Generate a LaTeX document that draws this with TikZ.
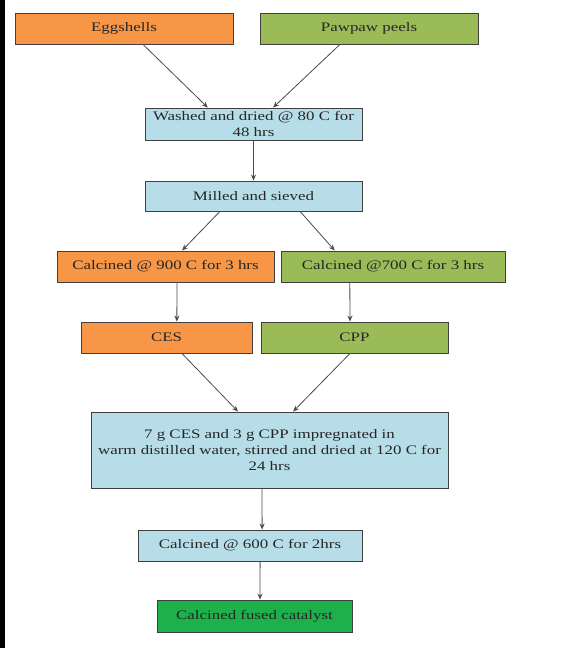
\documentclass[tikz,border=0pt]{standalone}
\usepackage{fontspec}
\setmainfont{Liberation Serif}
\newfontfamily\widefont[FakeStretch=1.3]{Liberation Serif}
\usetikzlibrary{calc,arrows.meta}
\definecolor{orangebox}{HTML}{F79646}
\definecolor{greenbox}{HTML}{9BBB59}
\definecolor{bluebox}{HTML}{B7DEE8}
\definecolor{finalbox}{HTML}{1DB04B}
\tikzset{
  box/.style={draw=black!75, line width=0.9pt, inner sep=1pt, align=center,
    font=\widefont\fontsize{13}{16}\selectfont, text=black!85},
  orng/.style={box, fill=orangebox},
  grn/.style={box, fill=greenbox},
  blu/.style={box, fill=bluebox},
  fin/.style={box, fill=finalbox},
  arr/.style={draw=black!70, line width=0.8pt, -{Stealth[length=6pt,width=5pt]}},
}
\begin{document}
\begin{tikzpicture}[x=1pt,y=-1pt]
\useasboundingbox (0,0) rectangle (561,648);
\fill[white] (0,0) rectangle (561,648);
\fill[black] (0,0) rectangle (5,648);
\node[orng, minimum width=218pt, minimum height=31pt] (egg) at (124,28.5) {Eggshells};
\node[grn, minimum width=218pt, minimum height=31pt] (paw) at (369,28.5) {Pawpaw peels};
\node[blu, minimum width=217pt, minimum height=32pt] (wash) at (253.5,124) {Washed and dried @ 80 C for\\48 hrs};
\node[blu, minimum width=217pt, minimum height=30pt] (mill) at (253.5,196) {Milled and sieved};
\node[orng, minimum width=217pt, minimum height=31pt] (c9) at (165.5,266.5) {Calcined @ 900 C for 3 hrs};
\node[grn, minimum width=224pt, minimum height=31pt] (c7) at (393,266.5) {Calcined @700 C for 3 hrs};
\node[orng, minimum width=171pt, minimum height=31pt] (ces) at (166.5,337.5) {CES};
\node[grn, minimum width=187pt, minimum height=31pt] (cpp) at (354.5,337.5) {CPP};
\node[blu, minimum width=357pt, minimum height=76pt] (big) at (269.5,450) {7 g CES and 3 g CPP impregnated in\\warm distilled water, stirred and dried at 120 C for\\24 hrs};
\node[blu, minimum width=224pt, minimum height=31pt] (c6) at (250,545.5) {Calcined @ 600 C for 2hrs};
\node[fin, minimum width=195pt, minimum height=32pt] (final) at (254.5,616) {Calcined fused catalyst};
\draw[arr] ($(egg.south west)!0.587!(egg.south east)$) -- ($(wash.north west)!0.29!(wash.north east)$);
\draw[arr] ($(paw.south west)!0.367!(paw.south east)$) -- ($(wash.north west)!0.59!(wash.north east)$);
\draw[arr] (wash.south) -- (mill.north);
\draw[arr] ($(mill.south west)!0.346!(mill.south east)$) -- ($(c9.north west)!0.576!(c9.north east)$);
\draw[arr] ($(mill.south west)!0.714!(mill.south east)$) -- ($(c7.north west)!0.241!(c7.north east)$);
\draw[arr] ($(c9.south west)!0.553!(c9.south east)$) -- ($(ces.north west)!0.56!(ces.north east)$);
\draw[arr] ($(c7.south west)!0.308!(c7.south east)$) -- ($(cpp.north west)!0.476!(cpp.north east)$);
\draw[arr] ($(ces.south west)!0.59!(ces.south east)$) -- ($(big.north west)!0.412!(big.north east)$);
\draw[arr] ($(cpp.south west)!0.476!(cpp.south east)$) -- ($(big.north west)!0.566!(big.north east)$);
\draw[arr] ($(big.south west)!0.479!(big.south east)$) -- ($(c6.north west)!0.554!(c6.north east)$);
\draw[arr] ($(c6.south west)!0.545!(c6.south east)$) -- ($(final.north west)!0.528!(final.north east)$);
\end{tikzpicture}
\end{document}
